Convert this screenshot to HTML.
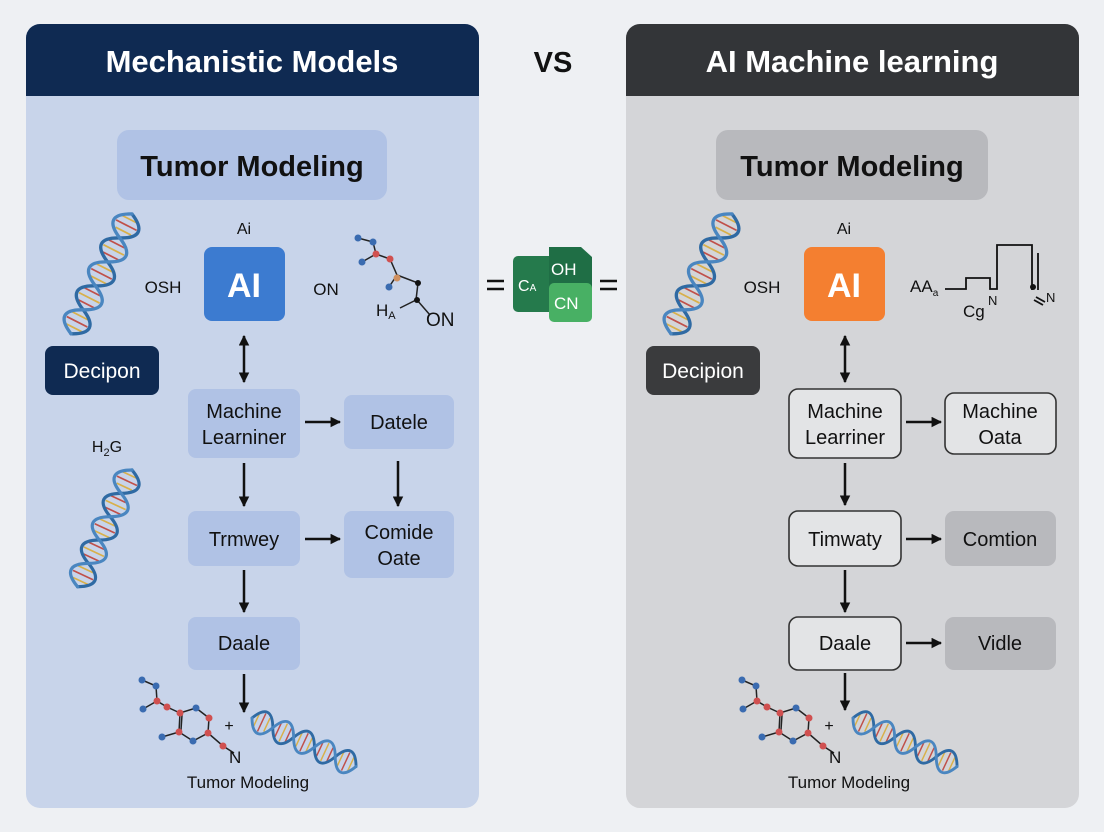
<!DOCTYPE html>
<html><head><meta charset="utf-8"><style>
html,body{margin:0;padding:0;background:#eef0f3;}
svg{display:block;font-family:"Liberation Sans",sans-serif;}
</style></head><body>
<svg width="1104" height="832" viewBox="0 0 1104 832" xmlns="http://www.w3.org/2000/svg">
<defs>
<marker id="ah" viewBox="0 0 10 10" refX="9" refY="5" markerWidth="4.2" markerHeight="4.2" orient="auto-start-reverse"><path d="M0,0 L10,5 L0,10 z" fill="#111"/></marker>
<g id="dna">
 <g stroke-width="1.8">
  <line x1="6" y1="-8" x2="6" y2="8" stroke="#d8b04a"/><line x1="13" y1="-12" x2="13" y2="12" stroke="#c0504a"/><line x1="20" y1="-9" x2="20" y2="9" stroke="#d8b04a"/>
  <line x1="35" y1="-9" x2="35" y2="9" stroke="#c0504a"/><line x1="42" y1="-12" x2="42" y2="12" stroke="#d8b04a"/><line x1="49" y1="-9" x2="49" y2="9" stroke="#c0504a"/>
  <line x1="63" y1="-9" x2="63" y2="9" stroke="#d8b04a"/><line x1="70" y1="-12" x2="70" y2="12" stroke="#c0504a"/><line x1="77" y1="-9" x2="77" y2="9" stroke="#d8b04a"/>
  <line x1="91" y1="-9" x2="91" y2="9" stroke="#c0504a"/><line x1="98" y1="-12" x2="98" y2="12" stroke="#d8b04a"/><line x1="105" y1="-9" x2="105" y2="9" stroke="#c0504a"/>
  <line x1="119" y1="-9" x2="119" y2="9" stroke="#d8b04a"/><line x1="126" y1="-12" x2="126" y2="12" stroke="#c0504a"/><line x1="133" y1="-9" x2="133" y2="9" stroke="#d8b04a"/>
 </g>
 <path d="M0,0 C9,-19 19,-19 28,0 S47,19 56,0 S75,-19 84,0 S103,19 112,0 S131,-19 140,0" fill="none" stroke="#2f6aa3" stroke-width="3.5" stroke-linecap="round"/>
 <path d="M0,0 C9,19 19,19 28,0 S47,-19 56,0 S75,19 84,0 S103,-19 112,0 S131,19 140,0" fill="none" stroke="#4a86c0" stroke-width="3.5" stroke-linecap="round"/>
</g>
</defs>

<!-- Left panel -->
<rect x="26" y="24" width="453" height="784" rx="14" fill="#c8d4ea"/>
<path d="M26,38 a14,14 0 0 1 14,-14 h425 a14,14 0 0 1 14,14 v58 h-453 z" fill="#0f2a52"/>
<text x="252" y="72" text-anchor="middle" fill="#fff" font-size="31" font-weight="bold">Mechanistic Models</text>
<rect x="117" y="130" width="270" height="70" rx="12" fill="#b0c2e5"/>
<text x="252" y="176" text-anchor="middle" fill="#111" font-size="29" font-weight="bold">Tumor Modeling</text>

<use href="#dna" transform="translate(132,214) rotate(117) scale(0.96)"/>
<use href="#dna" transform="translate(132,470) rotate(115) scale(0.92)"/>
<text x="107" y="452" text-anchor="middle" font-size="16" fill="#111">H<tspan font-size="11" dy="4">2</tspan><tspan dy="-4">G</tspan></text>

<text x="244" y="234" text-anchor="middle" font-size="16" fill="#111">Ai</text>
<rect x="204" y="247" width="81" height="74" rx="8" fill="#3c7bd0"/>
<text x="244" y="297" text-anchor="middle" fill="#fff" font-size="34" font-weight="bold">AI</text>
<text x="163" y="293" text-anchor="middle" font-size="17" fill="#111">OSH</text>
<text x="326" y="295" text-anchor="middle" font-size="17" fill="#111">ON</text>
<g stroke="#222" stroke-width="1.5" fill="none"><path d="M358,238 L373,242 L376,254 L390,259 L397,275 L418,283 L416,300 L400,308 M376,254 L362,262 M397,275 L389,287 M417,300 L430,315"/></g>
<g><circle cx="358" cy="238" r="3.5" fill="#3a6bb0"/><circle cx="373" cy="242" r="3.5" fill="#3a6bb0"/><circle cx="376" cy="254" r="3.5" fill="#d05050"/><circle cx="390" cy="259" r="3.5" fill="#d05050"/><circle cx="362" cy="262" r="3.5" fill="#3a6bb0"/><circle cx="397" cy="278" r="3.5" fill="#d09060"/><circle cx="389" cy="287" r="3.5" fill="#3a6bb0"/><circle cx="418" cy="283" r="3" fill="#111"/><circle cx="417" cy="300" r="3" fill="#111"/></g>
<text x="376" y="316" font-size="17" fill="#111">H<tspan font-size="11" dy="3">A</tspan></text>
<text x="426" y="326" font-size="19" fill="#111">ON</text>

<rect x="45" y="346" width="114" height="49" rx="8" fill="#0f2a52"/>
<text x="102" y="378" text-anchor="middle" fill="#fff" font-size="21">Decipon</text>

<g stroke="#111" stroke-width="2.5" fill="none" marker-end="url(#ah)">
 <line x1="244" y1="336" x2="244" y2="382" marker-start="url(#ah)"/>
 <line x1="305" y1="422" x2="340" y2="422"/>
 <line x1="244" y1="463" x2="244" y2="506"/>
 <line x1="398" y1="461" x2="398" y2="506"/>
 <line x1="305" y1="539" x2="340" y2="539"/>
 <line x1="244" y1="570" x2="244" y2="612"/>
 <line x1="244" y1="674" x2="244" y2="712"/>
</g>
<rect x="188" y="389" width="112" height="69" rx="8" fill="#b0c2e5"/>
<text x="244" y="418" text-anchor="middle" font-size="20" fill="#111">Machine</text>
<text x="244" y="444" text-anchor="middle" font-size="20" fill="#111">Learniner</text>
<rect x="344" y="395" width="110" height="54" rx="8" fill="#b0c2e5"/>
<text x="399" y="429" text-anchor="middle" font-size="20" fill="#111">Datele</text>
<rect x="188" y="511" width="112" height="55" rx="8" fill="#b0c2e5"/>
<text x="244" y="546" text-anchor="middle" font-size="20" fill="#111">Trmwey</text>
<rect x="344" y="511" width="110" height="67" rx="8" fill="#b0c2e5"/>
<text x="399" y="539" text-anchor="middle" font-size="20" fill="#111">Comide</text>
<text x="399" y="565" text-anchor="middle" font-size="20" fill="#111">Oate</text>
<rect x="188" y="617" width="112" height="53" rx="8" fill="#b0c2e5"/>
<text x="244" y="650" text-anchor="middle" font-size="20" fill="#111">Daale</text>

<g id="mol">
<g stroke="#222" stroke-width="1.5" fill="none"><path d="M142,680 L156,686 L157,701 L167,707 L180,713 L196,708 L209,718 L208,733 L193,741 L179,732 L180,713 M157,701 L143,709 M179,732 L162,737 M208,733 L223,746 L234,753 M182,715 L181,730"/></g>
<g><circle cx="142" cy="680" r="3.5" fill="#3a6bb0"/><circle cx="156" cy="686" r="3.5" fill="#3a6bb0"/><circle cx="157" cy="701" r="3.5" fill="#d05050"/><circle cx="167" cy="707" r="3.5" fill="#d05050"/><circle cx="143" cy="709" r="3.5" fill="#3a6bb0"/><circle cx="180" cy="713" r="3.5" fill="#d05050"/><circle cx="196" cy="708" r="3.5" fill="#3a6bb0"/><circle cx="209" cy="718" r="3.5" fill="#d05050"/><circle cx="208" cy="733" r="3.5" fill="#d05050"/><circle cx="193" cy="741" r="3.5" fill="#3a6bb0"/><circle cx="179" cy="732" r="3.5" fill="#d05050"/><circle cx="162" cy="737" r="3.5" fill="#3a6bb0"/><circle cx="223" cy="746" r="3.5" fill="#d05050"/></g>
<text x="229" y="763" font-size="17" fill="#111">N</text>
<text x="229" y="731" text-anchor="middle" font-size="16" fill="#111">+</text>
</g>
<use href="#dna" transform="translate(252,718) rotate(25) scale(0.82)"/>
<text x="248" y="788" text-anchor="middle" font-size="17" fill="#111">Tumor Modeling</text>

<!-- VS -->
<text x="553" y="72" text-anchor="middle" font-size="29" font-weight="bold" fill="#111">VS</text>
<g stroke="#111" stroke-width="2.5"><line x1="487" y1="281" x2="504" y2="281"/><line x1="487" y1="289" x2="504" y2="289"/><line x1="600" y1="281" x2="617" y2="281"/><line x1="600" y1="289" x2="617" y2="289"/></g>
<rect x="513" y="256" width="48" height="56" rx="5" fill="#257a4c"/>
<path d="M549,247 h32 l11,10 v45 h-43 z" fill="#1f6e45"/>
<rect x="549" y="283" width="43" height="39" rx="5" fill="#48b064"/>
<text x="518" y="291" font-size="16" fill="#fff">C<tspan font-size="10">A</tspan></text>
<text x="551" y="275" font-size="17" fill="#fff">OH</text>
<text x="554" y="309" font-size="17" fill="#fff">CN</text>

<!-- Right panel -->
<rect x="626" y="24" width="453" height="784" rx="14" fill="#d4d5d8"/>
<path d="M626,38 a14,14 0 0 1 14,-14 h425 a14,14 0 0 1 14,14 v58 h-453 z" fill="#333538"/>
<text x="852" y="72" text-anchor="middle" fill="#fff" font-size="31" font-weight="bold">AI Machine learning</text>
<rect x="716" y="130" width="272" height="70" rx="12" fill="#b8b9bd"/>
<text x="852" y="176" text-anchor="middle" fill="#111" font-size="29" font-weight="bold">Tumor Modeling</text>

<use href="#dna" transform="translate(732,214) rotate(117) scale(0.96)"/>
<text x="844" y="234" text-anchor="middle" font-size="16" fill="#111">Ai</text>
<rect x="804" y="247" width="81" height="74" rx="8" fill="#f47f30"/>
<text x="844" y="297" text-anchor="middle" fill="#fff" font-size="34" font-weight="bold">AI</text>
<text x="762" y="293" text-anchor="middle" font-size="17" fill="#111">OSH</text>
<text x="910" y="292" font-size="17" fill="#111">AA<tspan font-size="10" dy="4">a</tspan></text>
<g stroke="#111" stroke-width="1.8" fill="none"><path d="M945,289 H966 V278 H990 V289 H997 V245 H1032 V290 M1038,290 V253"/><path d="M1036,297 L1045,302 M1034,300 L1043,305"/></g>
<circle cx="1033" cy="287" r="3" fill="#111"/>
<text x="963" y="317" font-size="17" fill="#111">Cg</text>
<text x="988" y="305" font-size="13" fill="#111">N</text>
<text x="1046" y="302" font-size="13" fill="#111">N</text>

<rect x="646" y="346" width="114" height="49" rx="8" fill="#3a3b3d"/>
<text x="703" y="378" text-anchor="middle" fill="#fff" font-size="21">Decipion</text>

<g stroke="#111" stroke-width="2.5" fill="none" marker-end="url(#ah)">
 <line x1="845" y1="336" x2="845" y2="382" marker-start="url(#ah)"/>
 <line x1="906" y1="422" x2="941" y2="422"/>
 <line x1="845" y1="463" x2="845" y2="505"/>
 <line x1="906" y1="539" x2="941" y2="539"/>
 <line x1="845" y1="570" x2="845" y2="612"/>
 <line x1="906" y1="643" x2="941" y2="643"/>
 <line x1="845" y1="673" x2="845" y2="710"/>
</g>
<g fill="#e3e4e6" stroke="#333" stroke-width="1.6">
<rect x="789" y="389" width="112" height="69" rx="9"/>
<rect x="945" y="393" width="111" height="61" rx="9"/>
<rect x="789" y="511" width="112" height="55" rx="9"/>
<rect x="789" y="617" width="112" height="53" rx="9"/>
</g>
<rect x="945" y="511" width="111" height="55" rx="9" fill="#b8b9bd"/>
<rect x="945" y="617" width="111" height="53" rx="9" fill="#b8b9bd"/>
<text x="845" y="418" text-anchor="middle" font-size="20" fill="#111">Machine</text>
<text x="845" y="444" text-anchor="middle" font-size="20" fill="#111">Learriner</text>
<text x="1000" y="418" text-anchor="middle" font-size="20" fill="#111">Machine</text>
<text x="1000" y="444" text-anchor="middle" font-size="20" fill="#111">Oata</text>
<text x="845" y="546" text-anchor="middle" font-size="20" fill="#111">Timwaty</text>
<text x="1000" y="546" text-anchor="middle" font-size="20" fill="#111">Comtion</text>
<text x="845" y="650" text-anchor="middle" font-size="20" fill="#111">Daale</text>
<text x="1000" y="650" text-anchor="middle" font-size="20" fill="#111">Vidle</text>

<use href="#mol" transform="translate(600,0)"/>
<use href="#dna" transform="translate(853,718) rotate(25) scale(0.82)"/>
<text x="849" y="788" text-anchor="middle" font-size="17" fill="#111">Tumor Modeling</text>
</svg>
</body></html>
